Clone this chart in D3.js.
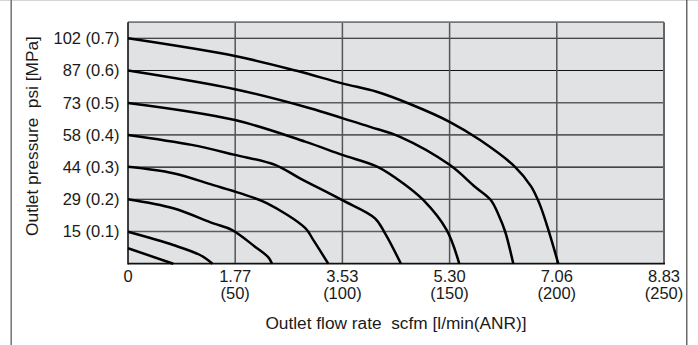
<!DOCTYPE html>
<html>
<head>
<meta charset="utf-8">
<script src="https://cdn.jsdelivr.net/npm/d3@7"></script>
<style>
  html, body { margin: 0; padding: 0; background: #fff; }
  svg { display: block; }
  text { font-family: "Liberation Sans", Arial, Helvetica, sans-serif; fill: #1a1a1a; }
</style>
</head>
<body>
<svg id="chart" width="698" height="345"></svg>
<script>
// ---- data ----
const flowTickValues = [0, 50, 100, 150, 200, 250];          // l/min(ANR)
const scfmLabels = ["0", "1.77", "3.53", "5.30", "7.06", "8.83"];
const pressureTickValues = [0.1, 0.2, 0.3, 0.4, 0.5, 0.6, 0.7]; // MPa
const psiLabels = ["15", "29", "44", "58", "73", "87", "102"];

const setPressures = [0.7, 0.6, 0.5, 0.4, 0.3, 0.2, 0.1, 0.05];

const flow07 = [0, 49.9, 78.7, 99.9, 116.0, 131.5, 150.2, 164.2, 180.5, 188.0, 192.0, 195.6, 200.7];
const pres07 = [0.700, 0.645, 0.599, 0.560, 0.534, 0.496, 0.440, 0.384, 0.301, 0.240, 0.185, 0.115, 0];

const flow06 = [0, 49.9, 84.9, 99.9, 112.9, 126.9, 150.0, 161.8, 169.2, 172.8, 175.9, 179.7];
const pres06 = [0.600, 0.542, 0.483, 0.452, 0.425, 0.394, 0.307, 0.239, 0.198, 0.152, 0.100, 0];

const flow05 = [0, 49.9, 82.6, 99.9, 116.4, 128.3, 137.7, 148.6, 154.5];
const pres05 = [0.499, 0.446, 0.379, 0.338, 0.301, 0.250, 0.198, 0.105, 0];

const flow04 = [0, 29.7, 49.9, 68.6, 80.2, 99.7, 115.2, 119.9, 127.3];
const pres04 = [0.400, 0.369, 0.338, 0.307, 0.265, 0.198, 0.141, 0.094, 0];

const flow03 = [0, 21.1, 39.8, 52.2, 64.7, 82.6, 86.4, 93.4];
const pres03 = [0.301, 0.281, 0.244, 0.219, 0.188, 0.111, 0.074, 0];

const flow02 = [0, 21.1, 39.8, 48.4, 59.2, 65.3, 67.2];
const pres02 = [0.200, 0.172, 0.125, 0.105, 0.053, 0.021, 0];

const flow01 = [0, 21.1, 33.6, 39.4];
const pres01 = [0.099, 0.058, 0.027, 0];

const flow005 = [0, 21.1];
const pres005 = [0.048, 0];

const curveFlows = [flow07, flow06, flow05, flow04, flow03, flow02, flow01, flow005];
const curvePressures = [pres07, pres06, pres05, pres04, pres03, pres02, pres01, pres005];

// ---- layout ----
const svg = d3.select("#chart");
const W = 698, H = 345;
const pLeft = 128, pRight = 664, pTop = 22.2, pBottom = 263.7;

const x = d3.scaleLinear().domain([0, 250]).range([pLeft, pRight]);
const y = d3.scaleLinear().domain([0, 0.75]).range([pBottom, pTop]);

// outer frame
svg.append("line").attr("x1", 0).attr("x2", W).attr("y1", 0.5).attr("y2", 0.5)
  .attr("stroke", "#d4d4d4").attr("stroke-width", 1.2);
svg.append("line").attr("x1", 11.2).attr("x2", 11.2).attr("y1", 0).attr("y2", H)
  .attr("stroke", "#7a7a7a").attr("stroke-width", 1.6);
svg.append("line").attr("x1", 686.8).attr("x2", 686.8).attr("y1", 0).attr("y2", H)
  .attr("stroke", "#444").attr("stroke-width", 1.2);

// plot background
svg.append("rect").attr("x", pLeft).attr("y", pTop)
  .attr("width", pRight - pLeft).attr("height", pBottom - pTop)
  .attr("fill", "#e1e2e4");

// horizontal grid
const darkRows = new Set([0.7, 0.6, 0.3, 0.2]);
svg.append("g").selectAll("line").data(pressureTickValues).join("line")
  .attr("x1", pLeft).attr("x2", pRight)
  .attr("y1", d => y(d)).attr("y2", d => y(d))
  .attr("stroke", d => darkRows.has(d) ? "#111" : "#5c5c5c")
  .attr("stroke-width", d => darkRows.has(d) ? 1.1 : 1.6);

// vertical grid
svg.append("g").selectAll("line").data(flowTickValues.slice(1, -1)).join("line")
  .attr("x1", d => x(d)).attr("x2", d => x(d))
  .attr("y1", pTop).attr("y2", pBottom)
  .attr("stroke", "#555").attr("stroke-width", 1.5);

// plot border
svg.append("line").attr("x1", pLeft).attr("x2", pRight).attr("y1", pTop).attr("y2", pTop)
  .attr("stroke", "#777").attr("stroke-width", 1.8);
svg.append("line").attr("x1", pRight).attr("x2", pRight).attr("y1", pTop).attr("y2", pBottom)
  .attr("stroke", "#666").attr("stroke-width", 2);
svg.append("line").attr("x1", pLeft).attr("x2", pLeft).attr("y1", pTop).attr("y2", pBottom + 0.8)
  .attr("stroke", "#111").attr("stroke-width", 1.6);
svg.append("line").attr("x1", pLeft).attr("x2", pRight + 1).attr("y1", pBottom).attr("y2", pBottom)
  .attr("stroke", "#111").attr("stroke-width", 1.8);

// curves
const lineGen = d3.line()
  .x(d => x(d[0])).y(d => y(d[1]))
  .curve(d3.curveCatmullRom.alpha(0.5));

svg.append("g").selectAll("path")
  .data(curveFlows.map((fl, i) => fl.map((f, j) => [f, curvePressures[i][j]])))
  .join("path")
  .attr("d", lineGen)
  .attr("fill", "none").attr("stroke", "#000").attr("stroke-width", 2.5)
  .attr("stroke-linecap", "butt").attr("stroke-linejoin", "round");

// y tick labels
svg.append("g").selectAll("text").data(pressureTickValues).join("text")
  .attr("x", 119.5).attr("y", d => y(d))
  .attr("dy", "0.36em")
  .attr("text-anchor", "end")
  .attr("font-size", 16.5)
  .text((d, i) => `${psiLabels[i]} (${d.toFixed(1)})`);

// x tick labels
const xt = svg.append("g").selectAll("g").data(flowTickValues).join("g");
xt.append("text")
  .attr("x", d => x(d)).attr("y", 281.5)
  .attr("text-anchor", "middle").attr("font-size", 16.5)
  .text((d, i) => scfmLabels[i]);
xt.filter(d => d > 0).append("text")
  .attr("x", d => x(d)).attr("y", 298.6)
  .attr("text-anchor", "middle").attr("font-size", 16.5)
  .text(d => `(${d})`);

// axis titles
svg.append("text")
  .attr("x", (pLeft + pRight) / 2).attr("y", 328.5)
  .attr("text-anchor", "middle").attr("font-size", 17.3)
  .style("white-space", "pre")
  .text("Outlet flow rate  scfm [l/min(ANR)]");

svg.append("text")
  .attr("transform", "translate(37.5,136) rotate(-90)")
  .attr("text-anchor", "middle").attr("font-size", 17.3)
  .style("white-space", "pre")
  .text("Outlet pressure  psi [MPa]");
</script>
</body>
</html>
